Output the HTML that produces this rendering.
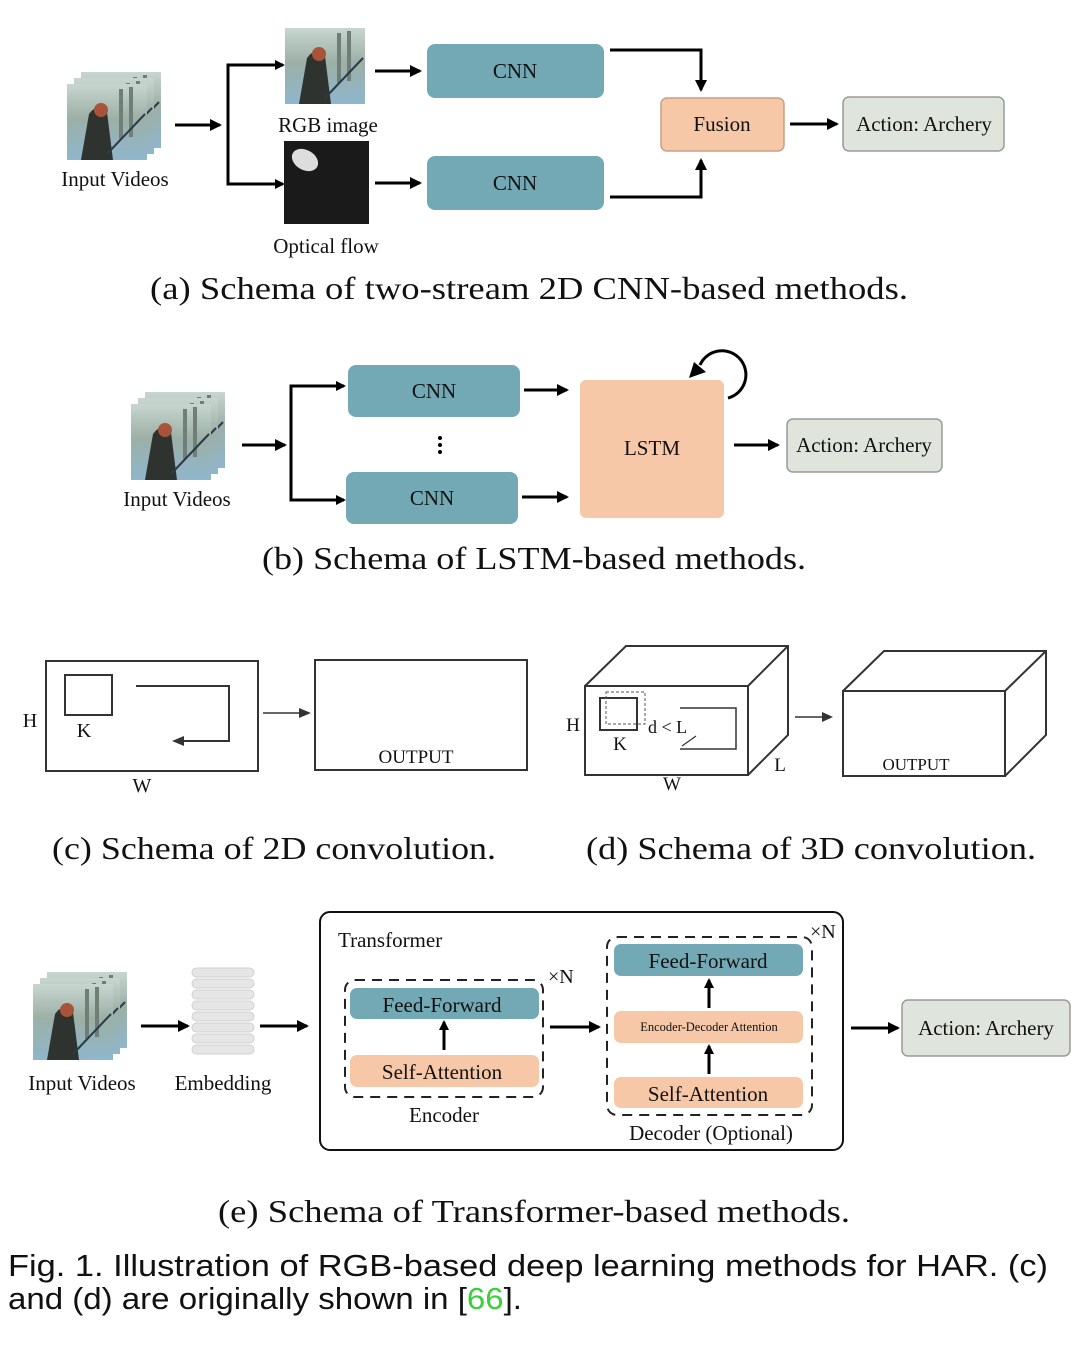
<!DOCTYPE html>
<html><head><meta charset="utf-8"><style>
html,body{margin:0;padding:0;background:#fff}
svg{display:block}
.s{font-family:"Liberation Serif",serif;fill:#111}
.a{font-family:"Liberation Sans",sans-serif;fill:#111}
</style></head><body>
<svg width="1080" height="1351" viewBox="0 0 1080 1351" xmlns="http://www.w3.org/2000/svg">
<defs>
<marker id="ah" markerWidth="10" markerHeight="10" refX="8" refY="5" orient="auto" markerUnits="userSpaceOnUse"><path d="M0,0 L10,5 L0,10 Z" fill="#000"/></marker>
<marker id="ahs" markerWidth="12" markerHeight="12" refX="10" refY="6" orient="auto" markerUnits="userSpaceOnUse"><path d="M0,0 L12,6 L0,12 Z" fill="#000"/></marker>
<linearGradient id="fr" x1="0" y1="0" x2="0" y2="1"><stop offset="0" stop-color="#c8d6d0"/><stop offset="0.45" stop-color="#9cb0a6"/><stop offset="1" stop-color="#8fb6cc"/></linearGradient>
<g id="frame">
<rect width="80" height="76" fill="url(#fr)"/>
<rect x="52" y="5" width="4" height="50" fill="#6f7f76"/><rect x="62" y="3" width="4" height="50" fill="#6f7f76"/>
<path d="M22,30 Q30,18 40,28 L46,76 L14,76 Z" fill="#2e3330"/><circle cx="34" cy="26" r="7" fill="#a8543a"/>
<line x1="40" y1="70" x2="78" y2="30" stroke="#2a3a4a" stroke-width="2"/>
</g>
<g id="stack"><use href="#frame" x="14" y="-12"/><use href="#frame" x="7" y="-6"/><use href="#frame"/></g>
</defs>
<g stroke="#000" stroke-width="3" fill="none">
<line x1="175" y1="125" x2="220" y2="125" marker-end="url(#ahs)"/>
<polyline points="282,65 228,65 228,184 282,184"/>
<line x1="260" y1="65" x2="283" y2="65" marker-end="url(#ah)"/>
<line x1="260" y1="184" x2="283" y2="184" marker-end="url(#ah)"/>
<line x1="375" y1="71" x2="420" y2="71" marker-end="url(#ahs)"/>
<line x1="375" y1="183" x2="420" y2="183" marker-end="url(#ahs)"/>
<polyline points="610,50 701,50 701,90" marker-end="url(#ahs)"/>
<polyline points="610,197 701,197 701,160" marker-end="url(#ahs)"/>
<line x1="790" y1="124" x2="837" y2="124" marker-end="url(#ahs)"/>
<line x1="242" y1="445" x2="285" y2="445" marker-end="url(#ahs)"/>
<polyline points="343,386 291,386 291,500 343,500"/>
<line x1="320" y1="386" x2="344" y2="386" marker-end="url(#ah)"/>
<line x1="320" y1="500" x2="344" y2="500" marker-end="url(#ah)"/>
<line x1="524" y1="390" x2="567" y2="390" marker-end="url(#ahs)"/>
<line x1="522" y1="497" x2="567" y2="497" marker-end="url(#ahs)"/>
<line x1="734" y1="445" x2="778" y2="445" marker-end="url(#ahs)"/>
<path d="M700,365 A24,24 0 1 1 728,398"/>
<line x1="141" y1="1026" x2="188" y2="1026" marker-end="url(#ahs)"/>
<line x1="260" y1="1026" x2="307" y2="1026" marker-end="url(#ahs)"/>
<line x1="550" y1="1027" x2="599" y2="1027" marker-end="url(#ahs)"/>
<line x1="851" y1="1028" x2="898" y2="1028" marker-end="url(#ahs)"/>
<line x1="444" y1="1050" x2="444" y2="1022" marker-end="url(#ah)"/>
<line x1="709" y1="1008" x2="709" y2="980" marker-end="url(#ah)"/>
<line x1="709" y1="1074" x2="709" y2="1046" marker-end="url(#ah)"/>
</g>
<path d="M689,378 L694,362 L706,372 Z" fill="#000"/>
<use href="#stack" x="67" y="84"/>
<use href="#frame" x="285" y="28"/>
<rect x="284" y="141" width="85" height="83" fill="#1a1a1a"/>
<ellipse cx="305" cy="160" rx="14" ry="10" fill="#ddd" transform="rotate(30 305 160)"/>
<use href="#stack" x="131" y="404"/>
<use href="#stack" x="33" y="984"/>
<text class="s" x="115" y="186" font-size="21" text-anchor="middle">Input Videos</text>
<text class="s" x="328" y="132" font-size="21" text-anchor="middle">RGB image</text>
<text class="s" x="326" y="253" font-size="21" text-anchor="middle">Optical flow</text>
<rect x="427" y="44" width="177" height="54" rx="8" fill="#72a9b5"/>
<rect x="427" y="156" width="177" height="54" rx="8" fill="#72a9b5"/>
<text class="s" x="515" y="78" font-size="21" text-anchor="middle">CNN</text>
<text class="s" x="515" y="190" font-size="21" text-anchor="middle">CNN</text>
<rect x="661" y="98" width="123" height="53" rx="6" fill="#f7c8a8" stroke="#c9a084" stroke-width="1.5"/>
<text class="s" x="722" y="131" font-size="21" text-anchor="middle">Fusion</text>
<rect x="843" y="97" width="161" height="54" rx="6" fill="#dfe5dc" stroke="#9a9a9a" stroke-width="1.5"/>
<text class="s" x="924" y="131" font-size="21" text-anchor="middle">Action: Archery</text>
<text class="s" x="529" y="299" font-size="32" text-anchor="middle" textLength="758" lengthAdjust="spacingAndGlyphs">(a) Schema of two-stream 2D CNN-based methods.</text>
<text class="s" x="177" y="506" font-size="21" text-anchor="middle">Input Videos</text>
<rect x="348" y="365" width="172" height="52" rx="8" fill="#72a9b5"/>
<rect x="346" y="472" width="172" height="52" rx="8" fill="#72a9b5"/>
<text class="s" x="434" y="398" font-size="21" text-anchor="middle">CNN</text>
<text class="s" x="432" y="505" font-size="21" text-anchor="middle">CNN</text>
<circle cx="440" cy="438" r="2" fill="#000"/><circle cx="440" cy="445" r="2" fill="#000"/><circle cx="440" cy="452" r="2" fill="#000"/>
<rect x="580" y="380" width="144" height="138" rx="6" fill="#f7c8a8"/>
<text class="s" x="652" y="455" font-size="21" text-anchor="middle">LSTM</text>
<rect x="787" y="419" width="155" height="53" rx="6" fill="#dfe5dc" stroke="#9a9a9a" stroke-width="1.5"/>
<text class="s" x="864" y="452" font-size="21" text-anchor="middle">Action: Archery</text>
<text class="s" x="534" y="569" font-size="32" text-anchor="middle" textLength="544" lengthAdjust="spacingAndGlyphs">(b) Schema of LSTM-based methods.</text>
<g stroke="#333" stroke-width="2" fill="none">
<rect x="46" y="661" width="212" height="110"/>
<rect x="65" y="675" width="47" height="40"/>
<polyline points="136,686 229,686 229,741 175,741"/>
<rect x="315" y="660" width="212" height="110"/>
</g>
<path d="M172,741 L184,736 L184,746 Z" fill="#333"/>
<line x1="263" y1="713" x2="308" y2="713" stroke="#333" stroke-width="1.5"/>
<path d="M311,713 L299,708 L299,718 Z" fill="#333"/>
<text class="s" x="30" y="727" font-size="20" text-anchor="middle">H</text>
<text class="s" x="84" y="737" font-size="20" text-anchor="middle">K</text>
<text class="s" x="142" y="792" font-size="20" text-anchor="middle">W</text>
<text class="s" x="416" y="763" font-size="19" text-anchor="middle">OUTPUT</text>
<text class="s" x="274" y="859" font-size="32" text-anchor="middle" textLength="444" lengthAdjust="spacingAndGlyphs">(c) Schema of 2D convolution.</text>
<g stroke="#333" stroke-width="2" fill="none">
<rect x="585" y="686" width="163" height="89"/>
<polyline points="585,686 626,646 788,646 788,735 748,775"/>
<line x1="748" y1="686" x2="788" y2="646"/>
<rect x="600" y="698" width="37" height="32"/>
<polyline points="680,708 736,708 736,749 680,749" stroke-width="1.5"/>
<line x1="682" y1="746" x2="696" y2="736" stroke-width="1.2"/>
<rect x="843" y="691" width="162" height="85"/>
<polyline points="843,691 884,651 1046,651 1046,735 1005,776"/>
<line x1="1005" y1="691" x2="1046" y2="651"/>
</g>
<rect x="606" y="692" width="39" height="32" fill="none" stroke="#555" stroke-width="1" stroke-dasharray="3,2"/>
<line x1="795" y1="717" x2="830" y2="717" stroke="#333" stroke-width="1.5"/>
<path d="M833,717 L822,712 L822,722 Z" fill="#333"/>
<text class="s" x="573" y="731" font-size="19" text-anchor="middle">H</text>
<text class="s" x="620" y="750" font-size="19" text-anchor="middle">K</text>
<text class="s" x="648" y="733" font-size="18">d &lt; L</text>
<text class="s" x="672" y="790" font-size="19" text-anchor="middle">W</text>
<text class="s" x="780" y="771" font-size="19" text-anchor="middle">L</text>
<text class="s" x="916" y="770" font-size="17" text-anchor="middle">OUTPUT</text>
<text class="s" x="811" y="859" font-size="32" text-anchor="middle" textLength="450" lengthAdjust="spacingAndGlyphs">(d) Schema of 3D convolution.</text>
<text class="s" x="82" y="1090" font-size="21" text-anchor="middle">Input Videos</text>
<g fill="#e6e6e6" stroke="#d0d0d0">
<rect x="192" y="968" width="62" height="9" rx="4.5"/><rect x="192" y="979" width="62" height="9" rx="4.5"/><rect x="192" y="990" width="62" height="9" rx="4.5"/><rect x="192" y="1001" width="62" height="9" rx="4.5"/><rect x="192" y="1012" width="62" height="9" rx="4.5"/><rect x="192" y="1023" width="62" height="9" rx="4.5"/><rect x="192" y="1034" width="62" height="9" rx="4.5"/><rect x="192" y="1045" width="62" height="9" rx="4.5"/>
</g>
<text class="s" x="223" y="1090" font-size="21" text-anchor="middle">Embedding</text>
<rect x="320" y="912" width="523" height="238" rx="10" fill="none" stroke="#111" stroke-width="2"/>
<text class="s" x="338" y="947" font-size="21">Transformer</text>
<rect x="345" y="980" width="198" height="117" rx="10" fill="none" stroke="#222" stroke-width="2" stroke-dasharray="10,7"/>
<text class="s" x="548" y="983" font-size="20">×N</text>
<rect x="350" y="988" width="189" height="31" rx="7" fill="#72a9b5"/>
<text class="s" x="442" y="1012" font-size="21" text-anchor="middle">Feed-Forward</text>
<rect x="350" y="1055" width="189" height="32" rx="7" fill="#f7c8a8"/>
<text class="s" x="442" y="1079" font-size="21" text-anchor="middle">Self-Attention</text>
<text class="s" x="444" y="1122" font-size="21" text-anchor="middle">Encoder</text>
<rect x="607" y="937" width="205" height="178" rx="10" fill="none" stroke="#222" stroke-width="2" stroke-dasharray="10,7"/>
<text class="s" x="810" y="938" font-size="20">×N</text>
<rect x="614" y="944" width="189" height="32" rx="7" fill="#72a9b5"/>
<text class="s" x="708" y="968" font-size="21" text-anchor="middle">Feed-Forward</text>
<rect x="614" y="1011" width="189" height="32" rx="7" fill="#f7c8a8"/>
<text class="s" x="709" y="1031" font-size="12.5" text-anchor="middle">Encoder-Decoder Attention</text>
<rect x="614" y="1077" width="189" height="31" rx="7" fill="#f7c8a8"/>
<text class="s" x="708" y="1101" font-size="21" text-anchor="middle">Self-Attention</text>
<text class="s" x="711" y="1140" font-size="21" text-anchor="middle">Decoder (Optional)</text>
<rect x="902" y="1000" width="168" height="56" rx="6" fill="#dfe5dc" stroke="#9a9a9a" stroke-width="1.5"/>
<text class="s" x="986" y="1035" font-size="21" text-anchor="middle">Action: Archery</text>
<text class="s" x="534" y="1222" font-size="32" text-anchor="middle" textLength="632" lengthAdjust="spacingAndGlyphs">(e) Schema of Transformer-based methods.</text>
<text class="a" x="8" y="1276" font-size="31" textLength="1040" lengthAdjust="spacingAndGlyphs">Fig. 1. Illustration of RGB-based deep learning methods for HAR. (c)</text>
<text class="a" x="8" y="1309" font-size="31" textLength="514" lengthAdjust="spacingAndGlyphs">and (d) are originally shown in [<tspan fill="#3ad03a">66</tspan>].</text>
</svg>
</body></html>
